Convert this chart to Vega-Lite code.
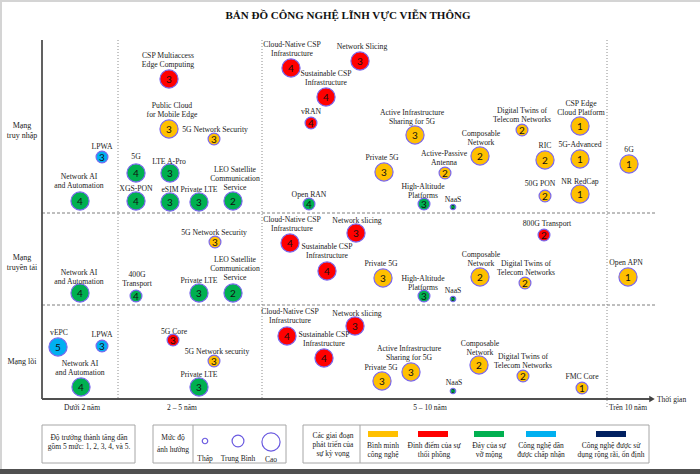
{
  "$schema": "https://vega.github.io/schema/vega-lite/v6.json",
  "width": 700,
  "height": 474,
  "autosize": {"type": "fit", "contains": "padding"},
  "padding": 0,
  "background": "white",
  "config": {"view": {"stroke": null}},
  "datasets": {
    "frame": [
      {"part": "left", "x": 0, "x2": 2, "y": 0, "y2": 474},
      {"part": "top", "x": 0, "x2": 700, "y": 0, "y2": 2},
      {"part": "bottom", "x": 0, "x2": 700, "y": 469, "y2": 474}
    ],
    "boxes": [
      {"x": 42, "x2": 135, "y": 425, "y2": 463},
      {"x": 153, "x2": 286, "y": 425, "y2": 463},
      {"x": 303, "x2": 649, "y": 425, "y2": 463}
    ],
    "lines": [
      {"kind": "divider", "x": 193, "x2": 193, "y": 425, "y2": 463},
      {"kind": "divider", "x": 360, "x2": 360, "y": 425, "y2": 463},
      {"kind": "vdot", "x": 118, "x2": 118, "y": 40, "y2": 398},
      {"kind": "vdot", "x": 262, "x2": 262, "y": 40, "y2": 398},
      {"kind": "vdot", "x": 607, "x2": 607, "y": 40, "y2": 408},
      {"kind": "hdash", "x": 42, "x2": 655, "y": 213, "y2": 213},
      {"kind": "hdash", "x": 42, "x2": 655, "y": 305, "y2": 305},
      {"kind": "axis", "x": 42, "x2": 42, "y": 40, "y2": 399},
      {"kind": "axis", "x": 42, "x2": 650, "y": 399, "y2": 399}
    ],
    "arrow": [{"x": 652, "y": 399}],
    "bubbles": [
      {"label": "CSP Multiaccess\nEdge Computing", "x": 169, "y": 79, "lx": 168, "ly": 55, "level": 3, "impact": "Cao", "phase": "Đỉnh điểm của sự thổi phồng"},
      {"label": "Public Cloud\nfor Mobile Edge", "x": 169, "y": 129, "lx": 172, "ly": 105, "level": 3, "impact": "Cao", "phase": "Bình minh công nghệ"},
      {"label": "5G Network Security", "x": 214, "y": 139, "lx": 215, "ly": 129, "level": 3, "impact": "Trung Bình", "phase": "Bình minh công nghệ"},
      {"label": "LPWA", "x": 102, "y": 157, "lx": 102, "ly": 146, "level": 3, "impact": "Trung Bình", "phase": "Công nghệ dần được chấp nhận"},
      {"label": "5G", "x": 136, "y": 173, "lx": 136, "ly": 156, "level": 4, "impact": "Cao", "phase": "Đáy của sự vỡ mộng"},
      {"label": "LTE A-Pro", "x": 170, "y": 173, "lx": 169, "ly": 161, "level": 3, "impact": "Cao", "phase": "Đáy của sự vỡ mộng"},
      {"label": "LEO Satellite\nCommunication\nService", "x": 233, "y": 201, "lx": 235, "ly": 169, "level": 2, "impact": "Cao", "phase": "Đáy của sự vỡ mộng"},
      {"label": "Network AI\nand Automation", "x": 80, "y": 201, "lx": 79, "ly": 176, "level": 4, "impact": "Cao", "phase": "Đáy của sự vỡ mộng"},
      {"label": "XGS-PON", "x": 136, "y": 201, "lx": 136, "ly": 188, "level": 4, "impact": "Cao", "phase": "Đáy của sự vỡ mộng"},
      {"label": "eSIM", "x": 170, "y": 202, "lx": 170, "ly": 189, "level": 3, "impact": "Cao", "phase": "Đáy của sự vỡ mộng"},
      {"label": "Private LTE", "x": 199, "y": 202, "lx": 199, "ly": 189, "level": 3, "impact": "Cao", "phase": "Đáy của sự vỡ mộng"},
      {"label": "Open RAN", "x": 309, "y": 204, "lx": 309, "ly": 194, "level": 4, "impact": "Trung Bình", "phase": "Đáy của sự vỡ mộng"},
      {"label": "Cloud-Native CSP\nInfrastructure", "x": 291, "y": 68, "lx": 292, "ly": 44, "level": 4, "impact": "Cao", "phase": "Đỉnh điểm của sự thổi phồng"},
      {"label": "Network Slicing", "x": 360, "y": 61, "lx": 362, "ly": 46, "level": 3, "impact": "Cao", "phase": "Đỉnh điểm của sự thổi phồng"},
      {"label": "Sustainable CSP\nInfrastructure", "x": 326, "y": 97, "lx": 326, "ly": 73, "level": 4, "impact": "Cao", "phase": "Đỉnh điểm của sự thổi phồng"},
      {"label": "vRAN", "x": 311, "y": 123, "lx": 311, "ly": 111, "level": 4, "impact": "Trung Bình", "phase": "Đỉnh điểm của sự thổi phồng"},
      {"label": "Active Infrastructure\nSharing for 5G", "x": 415, "y": 135, "lx": 412, "ly": 112, "level": 3, "impact": "Cao", "phase": "Bình minh công nghệ"},
      {"label": "Private 5G", "x": 384, "y": 172, "lx": 382, "ly": 157, "level": 3, "impact": "Cao", "phase": "Bình minh công nghệ"},
      {"label": "Active-Passive\nAntenna", "x": 445, "y": 173, "lx": 444, "ly": 153, "level": 2, "impact": "Trung Bình", "phase": "Bình minh công nghệ"},
      {"label": "Composable\nNetwork", "x": 480, "y": 156, "lx": 481, "ly": 133, "level": 2, "impact": "Cao", "phase": "Bình minh công nghệ"},
      {"label": "Digital Twins of\nTelecom Networks", "x": 522, "y": 130, "lx": 522, "ly": 110, "level": 2, "impact": "Trung Bình", "phase": "Bình minh công nghệ"},
      {"label": "CSP Edge\nCloud Platform", "x": 580, "y": 126, "lx": 581, "ly": 103, "level": 1, "impact": "Cao", "phase": "Bình minh công nghệ"},
      {"label": "RIC", "x": 545, "y": 160, "lx": 545, "ly": 145, "level": 2, "impact": "Cao", "phase": "Bình minh công nghệ"},
      {"label": "5G-Advanced", "x": 580, "y": 159, "lx": 580, "ly": 144, "level": 1, "impact": "Cao", "phase": "Bình minh công nghệ"},
      {"label": "6G", "x": 629, "y": 164, "lx": 629, "ly": 149, "level": 1, "impact": "Cao", "phase": "Bình minh công nghệ"},
      {"label": "50G PON", "x": 545, "y": 196, "lx": 540, "ly": 183, "level": 2, "impact": "Trung Bình", "phase": "Bình minh công nghệ"},
      {"label": "NR RedCap", "x": 580, "y": 194, "lx": 580, "ly": 181, "level": 1, "impact": "Cao", "phase": "Bình minh công nghệ"},
      {"label": "High-Altitude\nPlatforms", "x": 424, "y": 204, "lx": 423, "ly": 186, "level": 3, "impact": "Trung Bình", "phase": "Đáy của sự vỡ mộng"},
      {"label": "NaaS", "x": 453, "y": 207, "lx": 453, "ly": 199, "level": 2, "impact": "Thấp", "phase": "Đáy của sự vỡ mộng"},
      {"label": "5G Network Security", "x": 215, "y": 242, "lx": 214, "ly": 232, "level": 3, "impact": "Trung Bình", "phase": "Bình minh công nghệ"},
      {"label": "LEO Satellite\nCommunication\nService", "x": 233, "y": 293, "lx": 235, "ly": 259, "level": 2, "impact": "Cao", "phase": "Đáy của sự vỡ mộng"},
      {"label": "Private LTE", "x": 199, "y": 293, "lx": 199, "ly": 280, "level": 3, "impact": "Cao", "phase": "Đáy của sự vỡ mộng"},
      {"label": "400G\nTransport", "x": 136, "y": 296, "lx": 137, "ly": 274, "level": 4, "impact": "Trung Bình", "phase": "Đáy của sự vỡ mộng"},
      {"label": "Network AI\nand Automation", "x": 80, "y": 293, "lx": 79, "ly": 272, "level": 4, "impact": "Cao", "phase": "Đáy của sự vỡ mộng"},
      {"label": "Cloud-Native CSP\nInfrastructure", "x": 290, "y": 243, "lx": 292, "ly": 219, "level": 4, "impact": "Cao", "phase": "Đỉnh điểm của sự thổi phồng"},
      {"label": "Network slicing", "x": 356, "y": 233, "lx": 357, "ly": 220, "level": 3, "impact": "Cao", "phase": "Đỉnh điểm của sự thổi phồng"},
      {"label": "Sustainable CSP\nInfrastructure", "x": 327, "y": 271, "lx": 327, "ly": 246, "level": 4, "impact": "Cao", "phase": "Đỉnh điểm của sự thổi phồng"},
      {"label": "Private 5G", "x": 383, "y": 278, "lx": 381, "ly": 263, "level": 3, "impact": "Cao", "phase": "Bình minh công nghệ"},
      {"label": "High-Altitude\nPlatforms", "x": 424, "y": 296, "lx": 423, "ly": 278, "level": 3, "impact": "Trung Bình", "phase": "Đáy của sự vỡ mộng"},
      {"label": "NaaS", "x": 453, "y": 299, "lx": 453, "ly": 290, "level": 2, "impact": "Thấp", "phase": "Đáy của sự vỡ mộng"},
      {"label": "800G Transport", "x": 544, "y": 235, "lx": 547, "ly": 223, "level": 2, "impact": "Trung Bình", "phase": "Đỉnh điểm của sự thổi phồng"},
      {"label": "Composable\nNetwork", "x": 480, "y": 277, "lx": 481, "ly": 254, "level": 2, "impact": "Cao", "phase": "Bình minh công nghệ"},
      {"label": "Digital Twins of\nTelecom Networks", "x": 525, "y": 283, "lx": 526, "ly": 263, "level": 2, "impact": "Trung Bình", "phase": "Bình minh công nghệ"},
      {"label": "Open APN", "x": 628, "y": 277, "lx": 626, "ly": 262, "level": 1, "impact": "Cao", "phase": "Bình minh công nghệ"},
      {"label": "vEPC", "x": 58, "y": 347, "lx": 59, "ly": 332, "level": 5, "impact": "Cao", "phase": "Công nghệ dần được chấp nhận"},
      {"label": "LPWA", "x": 102, "y": 346, "lx": 102, "ly": 334, "level": 3, "impact": "Trung Bình", "phase": "Công nghệ dần được chấp nhận"},
      {"label": "Network AI\nand Automation", "x": 81, "y": 387, "lx": 80, "ly": 363, "level": 4, "impact": "Cao", "phase": "Đáy của sự vỡ mộng"},
      {"label": "5G Core", "x": 173, "y": 340, "lx": 174, "ly": 331, "level": 3, "impact": "Trung Bình", "phase": "Đỉnh điểm của sự thổi phồng"},
      {"label": "5G Network security", "x": 214, "y": 361, "lx": 217, "ly": 351, "level": 3, "impact": "Trung Bình", "phase": "Bình minh công nghệ"},
      {"label": "Private LTE", "x": 199, "y": 387, "lx": 199, "ly": 374, "level": 3, "impact": "Cao", "phase": "Đáy của sự vỡ mộng"},
      {"label": "Cloud-Native CSP\nInfrastructure", "x": 287, "y": 336, "lx": 290, "ly": 311, "level": 4, "impact": "Cao", "phase": "Đỉnh điểm của sự thổi phồng"},
      {"label": "Network slicing", "x": 355, "y": 326, "lx": 357, "ly": 313, "level": 3, "impact": "Cao", "phase": "Đỉnh điểm của sự thổi phồng"},
      {"label": "Sustainable CSP\nInfrastructure", "x": 324, "y": 358, "lx": 324, "ly": 334, "level": 4, "impact": "Cao", "phase": "Đỉnh điểm của sự thổi phồng"},
      {"label": "Private 5G", "x": 382, "y": 381, "lx": 381, "ly": 367, "level": 3, "impact": "Cao", "phase": "Bình minh công nghệ"},
      {"label": "Active Infrastructure\nSharing for 5G", "x": 411, "y": 372, "lx": 409, "ly": 348, "level": 3, "impact": "Cao", "phase": "Bình minh công nghệ"},
      {"label": "NaaS", "x": 453, "y": 391, "lx": 454, "ly": 382, "level": 2, "impact": "Thấp", "phase": "Đáy của sự vỡ mộng"},
      {"label": "Composable\nNetwork", "x": 479, "y": 365, "lx": 480, "ly": 343, "level": 2, "impact": "Cao", "phase": "Bình minh công nghệ"},
      {"label": "Digital Twins of\nTelecom Networks", "x": 523, "y": 376, "lx": 523, "ly": 356, "level": 2, "impact": "Trung Bình", "phase": "Bình minh công nghệ"},
      {"label": "FMC Core", "x": 582, "y": 388, "lx": 582, "ly": 376, "level": 1, "impact": "Trung Bình", "phase": "Bình minh công nghệ"}
    ],
    "texts": [
      {"role": "title", "text": "BẢN ĐỒ CÔNG NGHỆ LĨNH VỰC VIỄN THÔNG", "x": 348, "y": 16},
      {"role": "row", "text": "Mạng\ntruy nhập", "x": 22, "y": 125},
      {"role": "row", "text": "Mạng\ntruyền tải", "x": 22, "y": 257},
      {"role": "row", "text": "Mạng lõi", "x": 22, "y": 361},
      {"role": "cat", "text": "Dưới 2 năm", "x": 82, "y": 407},
      {"role": "cat", "text": "2 – 5 năm", "x": 182, "y": 407},
      {"role": "cat", "text": "5 – 10 năm", "x": 430, "y": 407},
      {"role": "cat", "text": "Trên 10 năm", "x": 628, "y": 407},
      {"role": "axistitle", "text": "Thời gian", "x": 657, "y": 399},
      {"role": "legend", "text": "Độ trưởng thành tăng dần\ngồm 5 mức: 1, 2, 3, 4, và 5.", "x": 89, "y": 437},
      {"role": "legend", "text": "Mức độ", "x": 173, "y": 437},
      {"role": "legend", "text": "ảnh hưởng", "x": 173, "y": 449},
      {"role": "legend", "text": "Thấp", "x": 205, "y": 458},
      {"role": "legend", "text": "Trung Bình", "x": 238, "y": 458},
      {"role": "legend", "text": "Cao", "x": 271, "y": 459},
      {"role": "legend", "text": "Các giai đoạn\nphát triển của\nsự kỳ vọng", "x": 333, "y": 435},
      {"role": "legend", "text": "Bình minh\ncông nghệ", "x": 383, "y": 445},
      {"role": "legend", "text": "Đỉnh điểm của sự\nthổi phồng", "x": 434, "y": 445},
      {"role": "legend", "text": "Đáy của sự\nvỡ mộng", "x": 489, "y": 445},
      {"role": "legend", "text": "Công nghệ dần\nđược chấp nhận", "x": 541, "y": 445},
      {"role": "legend", "text": "Công nghệ được sử\ndụng rộng rãi, ổn định", "x": 611, "y": 445}
    ],
    "swatches": [
      {"phase": "Bình minh công nghệ", "x": 368, "x2": 398, "y": 431, "y2": 437},
      {"phase": "Đỉnh điểm của sự thổi phồng", "x": 418, "x2": 448, "y": 431, "y2": 437},
      {"phase": "Đáy của sự vỡ mộng", "x": 474, "x2": 504, "y": 431, "y2": 437},
      {"phase": "Công nghệ dần được chấp nhận", "x": 526, "x2": 556, "y": 431, "y2": 437},
      {"phase": "Công nghệ được sử dụng rộng rãi, ổn định", "x": 596, "x2": 626, "y": 431, "y2": 437}
    ],
    "impactLegend": [
      {"impact": "Thấp", "x": 205, "y": 441},
      {"impact": "Trung Bình", "x": 238, "y": 441},
      {"impact": "Cao", "x": 271, "y": 442}
    ]
  },
  "layer": [
    {
      "data": {"name": "frame"},
      "transform": [{"filter": "datum.part !== 'bottom'"}],
      "mark": {"type": "rect", "fill": "#d4d4d4"},
      "encoding": {
        "x": {"field": "x", "type": "quantitative", "scale": {"domain": [0, 700], "nice": false, "zero": false}, "axis": null},
        "x2": {"field": "x2"},
        "y": {"field": "y", "type": "quantitative", "scale": {"domain": [0, 474], "reverse": true, "nice": false, "zero": false}, "axis": null},
        "y2": {"field": "y2"}
      }
    },
    {
      "data": {"name": "frame"},
      "transform": [{"filter": "datum.part === 'bottom'"}],
      "mark": {"type": "rect", "fill": "#505050"},
      "encoding": {
        "x": {"field": "x", "type": "quantitative", "scale": {"domain": [0, 700], "nice": false, "zero": false}, "axis": null},
        "x2": {"field": "x2"},
        "y": {"field": "y", "type": "quantitative", "scale": {"domain": [0, 474], "reverse": true, "nice": false, "zero": false}, "axis": null},
        "y2": {"field": "y2"}
      }
    },
    {
      "data": {"name": "boxes"},
      "mark": {"type": "rect", "fill": "white", "stroke": "#a6a6a6", "strokeWidth": 1},
      "encoding": {
        "x": {"field": "x", "type": "quantitative", "scale": {"domain": [0, 700], "nice": false, "zero": false}, "axis": null},
        "x2": {"field": "x2"},
        "y": {"field": "y", "type": "quantitative", "scale": {"domain": [0, 474], "reverse": true, "nice": false, "zero": false}, "axis": null},
        "y2": {"field": "y2"}
      }
    },
    {
      "data": {"name": "lines"},
      "transform": [{"filter": "datum.kind === 'divider'"}],
      "mark": {"type": "rule", "stroke": "#a6a6a6", "strokeWidth": 1},
      "encoding": {
        "x": {"field": "x", "type": "quantitative", "scale": {"domain": [0, 700], "nice": false, "zero": false}, "axis": null},
        "x2": {"field": "x2"},
        "y": {"field": "y", "type": "quantitative", "scale": {"domain": [0, 474], "reverse": true, "nice": false, "zero": false}, "axis": null},
        "y2": {"field": "y2"}
      }
    },
    {
      "data": {"name": "lines"},
      "transform": [{"filter": "datum.kind === 'vdot'"}],
      "mark": {"type": "rule", "stroke": "#8c8c8c", "strokeWidth": 1, "strokeDash": [1, 2]},
      "encoding": {
        "x": {"field": "x", "type": "quantitative", "scale": {"domain": [0, 700], "nice": false, "zero": false}, "axis": null},
        "x2": {"field": "x2"},
        "y": {"field": "y", "type": "quantitative", "scale": {"domain": [0, 474], "reverse": true, "nice": false, "zero": false}, "axis": null},
        "y2": {"field": "y2"}
      }
    },
    {
      "data": {"name": "lines"},
      "transform": [{"filter": "datum.kind === 'hdash'"}],
      "mark": {"type": "rule", "stroke": "#7f7f7f", "strokeWidth": 1, "strokeDash": [3, 2]},
      "encoding": {
        "x": {"field": "x", "type": "quantitative", "scale": {"domain": [0, 700], "nice": false, "zero": false}, "axis": null},
        "x2": {"field": "x2"},
        "y": {"field": "y", "type": "quantitative", "scale": {"domain": [0, 474], "reverse": true, "nice": false, "zero": false}, "axis": null},
        "y2": {"field": "y2"}
      }
    },
    {
      "data": {"name": "lines"},
      "transform": [{"filter": "datum.kind === 'axis'"}],
      "mark": {"type": "rule", "stroke": "#505050", "strokeWidth": 1.8},
      "encoding": {
        "x": {"field": "x", "type": "quantitative", "scale": {"domain": [0, 700], "nice": false, "zero": false}, "axis": null},
        "x2": {"field": "x2"},
        "y": {"field": "y", "type": "quantitative", "scale": {"domain": [0, 474], "reverse": true, "nice": false, "zero": false}, "axis": null},
        "y2": {"field": "y2"}
      }
    },
    {
      "data": {"name": "arrow"},
      "mark": {"type": "point", "shape": "triangle-right", "filled": true, "fill": "#404040", "opacity": 1, "size": 40},
      "encoding": {
        "x": {"field": "x", "type": "quantitative", "scale": {"domain": [0, 700], "nice": false, "zero": false}, "axis": null},
        "y": {"field": "y", "type": "quantitative", "scale": {"domain": [0, 474], "reverse": true, "nice": false, "zero": false}, "axis": null}
      }
    },
    {
      "data": {"name": "bubbles"},
      "mark": {"type": "point", "shape": "circle", "filled": true, "opacity": 1, "stroke": "#7B68EE", "strokeWidth": 1.2},
      "encoding": {
        "x": {"field": "x", "type": "quantitative", "scale": {"domain": [0, 700], "nice": false, "zero": false}, "axis": null},
        "y": {"field": "y", "type": "quantitative", "scale": {"domain": [0, 474], "reverse": true, "nice": false, "zero": false}, "axis": null},
        "fill": {"field": "phase", "type": "nominal", "legend": null, "scale": {"domain": ["Bình minh công nghệ", "Đỉnh điểm của sự thổi phồng", "Đáy của sự vỡ mộng", "Công nghệ dần được chấp nhận", "Công nghệ được sử dụng rộng rãi, ổn định"], "range": ["#FFC000", "#FF0000", "#00B050", "#00B0F0", "#002060"]}},
        "size": {"field": "impact", "type": "nominal", "legend": null, "scale": {"type": "ordinal", "domain": ["Thấp", "Trung Bình", "Cao"], "range": [30, 140, 330]}}
      }
    },
    {
      "data": {"name": "bubbles"},
      "transform": [{"filter": "datum.impact !== 'Thấp'"}],
      "mark": {"type": "text", "align": "center", "baseline": "middle", "font": "Lato", "fontSize": 10, "fill": "#111", "dy": 0.5},
      "encoding": {
        "x": {"field": "x", "type": "quantitative", "scale": {"domain": [0, 700], "nice": false, "zero": false}, "axis": null},
        "y": {"field": "y", "type": "quantitative", "scale": {"domain": [0, 474], "reverse": true, "nice": false, "zero": false}, "axis": null},
        "text": {"field": "level", "type": "nominal"}
      }
    },
    {
      "data": {"name": "bubbles"},
      "transform": [{"filter": "datum.impact === 'Thấp'"}],
      "mark": {"type": "text", "align": "center", "baseline": "middle", "font": "Lato", "fontSize": 5, "fill": "#111"},
      "encoding": {
        "x": {"field": "x", "type": "quantitative", "scale": {"domain": [0, 700], "nice": false, "zero": false}, "axis": null},
        "y": {"field": "y", "type": "quantitative", "scale": {"domain": [0, 474], "reverse": true, "nice": false, "zero": false}, "axis": null},
        "text": {"field": "level", "type": "nominal"}
      }
    },
    {
      "data": {"name": "bubbles"},
      "mark": {"type": "text", "align": "center", "baseline": "top", "dy": -3.5, "font": "Liberation Serif", "fontSize": 7.7, "lineHeight": 9, "lineBreak": "\n", "fill": "#222"},
      "encoding": {
        "x": {"field": "lx", "type": "quantitative", "scale": {"domain": [0, 700], "nice": false, "zero": false}, "axis": null},
        "y": {"field": "ly", "type": "quantitative", "scale": {"domain": [0, 474], "reverse": true, "nice": false, "zero": false}, "axis": null},
        "text": {"field": "label", "type": "nominal"}
      }
    },
    {
      "data": {"name": "swatches"},
      "mark": {"type": "rect"},
      "encoding": {
        "x": {"field": "x", "type": "quantitative", "scale": {"domain": [0, 700], "nice": false, "zero": false}, "axis": null},
        "x2": {"field": "x2"},
        "y": {"field": "y", "type": "quantitative", "scale": {"domain": [0, 474], "reverse": true, "nice": false, "zero": false}, "axis": null},
        "y2": {"field": "y2"},
        "fill": {"field": "phase", "type": "nominal", "legend": null, "scale": {"domain": ["Bình minh công nghệ", "Đỉnh điểm của sự thổi phồng", "Đáy của sự vỡ mộng", "Công nghệ dần được chấp nhận", "Công nghệ được sử dụng rộng rãi, ổn định"], "range": ["#FFC000", "#FF0000", "#00B050", "#00B0F0", "#002060"]}}
      }
    },
    {
      "data": {"name": "impactLegend"},
      "mark": {"type": "point", "shape": "circle", "filled": false, "fill": "white", "stroke": "#6A5AE0", "strokeWidth": 1.2, "opacity": 1},
      "encoding": {
        "x": {"field": "x", "type": "quantitative", "scale": {"domain": [0, 700], "nice": false, "zero": false}, "axis": null},
        "y": {"field": "y", "type": "quantitative", "scale": {"domain": [0, 474], "reverse": true, "nice": false, "zero": false}, "axis": null},
        "size": {"field": "impact", "type": "nominal", "legend": null, "scale": {"type": "ordinal", "domain": ["Thấp", "Trung Bình", "Cao"], "range": [30, 140, 330]}}
      }
    },
    {
      "data": {"name": "texts"},
      "transform": [{"filter": "datum.role === 'title'"}],
      "mark": {"type": "text", "align": "center", "baseline": "middle", "font": "Liberation Serif", "fontSize": 11, "fontWeight": "bold", "fill": "#111"},
      "encoding": {
        "x": {"field": "x", "type": "quantitative", "scale": {"domain": [0, 700], "nice": false, "zero": false}, "axis": null},
        "y": {"field": "y", "type": "quantitative", "scale": {"domain": [0, 474], "reverse": true, "nice": false, "zero": false}, "axis": null},
        "text": {"field": "text", "type": "nominal"}
      }
    },
    {
      "data": {"name": "texts"},
      "transform": [{"filter": "datum.role === 'row'"}],
      "mark": {"type": "text", "align": "center", "baseline": "top", "dy": -3.5, "font": "Liberation Serif", "fontSize": 8, "lineHeight": 10, "lineBreak": "\n", "fill": "#222"},
      "encoding": {
        "x": {"field": "x", "type": "quantitative", "scale": {"domain": [0, 700], "nice": false, "zero": false}, "axis": null},
        "y": {"field": "y", "type": "quantitative", "scale": {"domain": [0, 474], "reverse": true, "nice": false, "zero": false}, "axis": null},
        "text": {"field": "text", "type": "nominal"}
      }
    },
    {
      "data": {"name": "texts"},
      "transform": [{"filter": "datum.role === 'cat' || datum.role === 'legend'"}],
      "mark": {"type": "text", "align": "center", "baseline": "top", "dy": -3.5, "font": "Liberation Serif", "fontSize": 7.5, "lineHeight": 9, "lineBreak": "\n", "fill": "#222"},
      "encoding": {
        "x": {"field": "x", "type": "quantitative", "scale": {"domain": [0, 700], "nice": false, "zero": false}, "axis": null},
        "y": {"field": "y", "type": "quantitative", "scale": {"domain": [0, 474], "reverse": true, "nice": false, "zero": false}, "axis": null},
        "text": {"field": "text", "type": "nominal"}
      }
    },
    {
      "data": {"name": "texts"},
      "transform": [{"filter": "datum.role === 'axistitle'"}],
      "mark": {"type": "text", "align": "left", "baseline": "top", "dy": -3.5, "font": "Liberation Serif", "fontSize": 7.5, "fill": "#222"},
      "encoding": {
        "x": {"field": "x", "type": "quantitative", "scale": {"domain": [0, 700], "nice": false, "zero": false}, "axis": null},
        "y": {"field": "y", "type": "quantitative", "scale": {"domain": [0, 474], "reverse": true, "nice": false, "zero": false}, "axis": null},
        "text": {"field": "text", "type": "nominal"}
      }
    }
  ]
}
